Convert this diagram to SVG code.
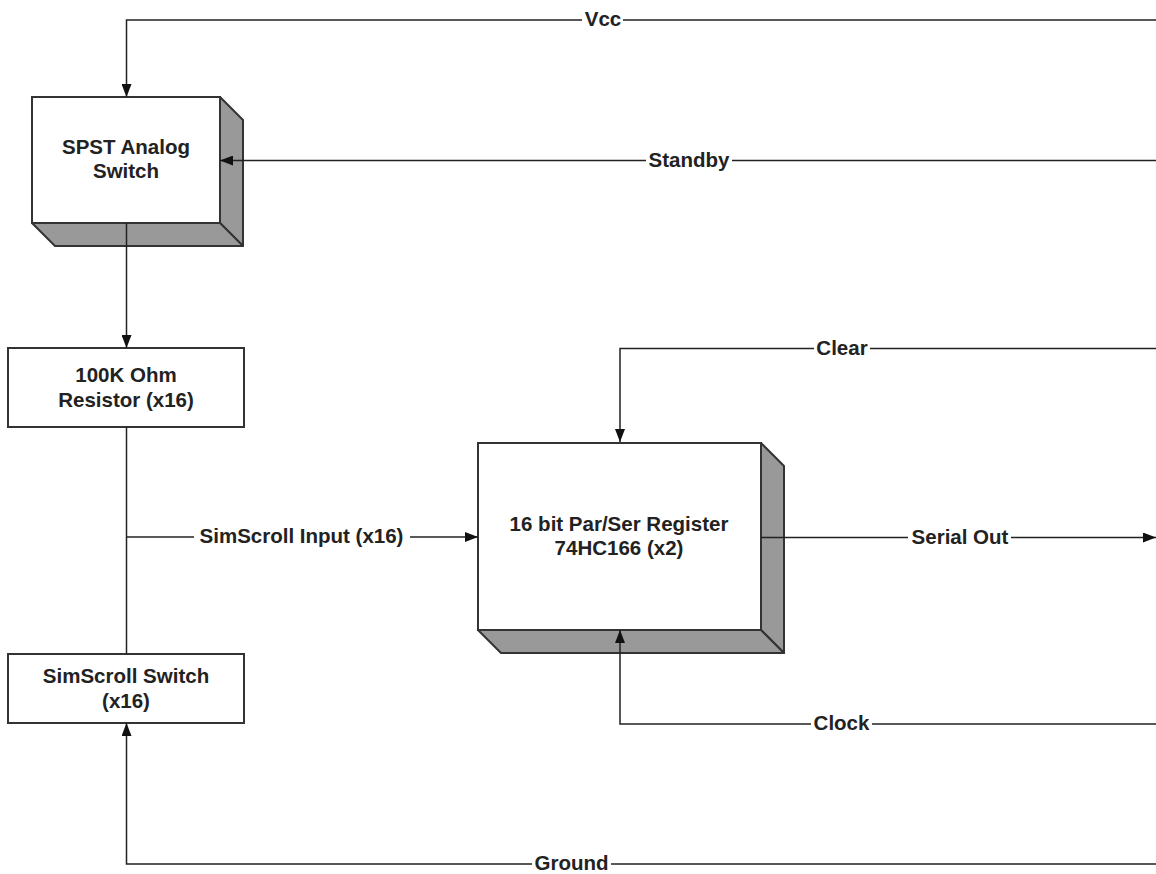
<svg xmlns="http://www.w3.org/2000/svg" width="1156" height="874" viewBox="0 0 1156 874">
<style>
.face{fill:#ffffff;stroke:#333333;stroke-width:2}
.side{fill:#999999;stroke:#333333;stroke-width:2;stroke-linejoin:round}
.t{font-family:"Liberation Sans",Arial,sans-serif;font-weight:bold;font-size:20.5px;fill:#222222;text-anchor:middle}
.c{fill:none;stroke:#222222;stroke-width:1.5}
.bg{fill:#ffffff}
</style>
<defs>
<marker id="arr" viewBox="0 0 13 10" refX="13" refY="5" markerWidth="13" markerHeight="10" markerUnits="userSpaceOnUse" orient="auto">
<path d="M0,0 L13,5 L0,10 Z" fill="#111111"/>
</marker>
</defs>
<rect width="1156" height="874" fill="#ffffff"/>
<g id="spst-switch">
<path class="side" d="M220,97 L243,120 L243,246 L220,223 Z"/>
<path class="side" d="M32,223 L55,246 L243,246 L220,223 Z"/>
<rect class="face" x="32" y="97" width="188" height="126"/>
<text class="t" x="126" y="154">SPST Analog</text>
<text class="t" x="126" y="178">Switch</text>
</g>
<g id="resistor">
<rect class="face" x="8" y="348" width="236" height="79"/>
<text class="t" x="126" y="382">100K Ohm</text>
<text class="t" x="126" y="407">Resistor (x16)</text>
</g>
<g id="simscroll-switch">
<rect class="face" x="8" y="654" width="236" height="69"/>
<text class="t" x="126" y="683">SimScroll Switch</text>
<text class="t" x="126" y="708">(x16)</text>
</g>
<g id="register">
<path class="side" d="M761,443 L784,466 L784,653 L761,630 Z"/>
<path class="side" d="M478,630 L501,653 L784,653 L761,630 Z"/>
<rect class="face" x="478" y="443" width="283" height="187"/>
<text class="t" x="619" y="531">16 bit Par/Ser Register</text>
<text class="t" x="619" y="555">74HC166 (x2)</text>
</g>
<g id="connectors">
<path class="c" d="M1156,20 H126.5 V97" marker-end="url(#arr)"/>
<path class="c" d="M1156,160.5 H220" marker-end="url(#arr)"/>
<path class="c" d="M126.5,223 V348" marker-end="url(#arr)"/>
<path class="c" d="M126.5,427 V654"/>
<path class="c" d="M126.5,537 H478" marker-end="url(#arr)"/>
<path class="c" d="M1156,348.5 H620 V442" marker-end="url(#arr)"/>
<path class="c" d="M761,537.5 H1156" marker-end="url(#arr)"/>
<path class="c" d="M1156,724 H620 V630" marker-end="url(#arr)"/>
<path class="c" d="M1156,864 H126.5 V723" marker-end="url(#arr)"/>
<g id="connector-labels">
<rect class="bg" x="582" y="8" width="41" height="24"/>
<text class="t" x="603" y="26">Vcc</text>
<rect class="bg" x="646" y="148" width="86" height="24"/>
<text class="t" x="689" y="166.5">Standby</text>
<rect class="bg" x="194" y="525" width="216" height="24"/>
<text class="t" x="301.5" y="543">SimScroll Input (x16)</text>
<rect class="bg" x="814" y="336" width="56" height="24"/>
<text class="t" x="842" y="354.5">Clear</text>
<rect class="bg" x="908" y="525" width="103" height="24"/>
<text class="t" x="960" y="543.5">Serial Out</text>
<rect class="bg" x="811" y="712" width="61" height="24"/>
<text class="t" x="841.5" y="730">Clock</text>
<rect class="bg" x="532" y="852" width="79" height="24"/>
<text class="t" x="571.5" y="870">Ground</text>
</g>
</g>
</svg>
